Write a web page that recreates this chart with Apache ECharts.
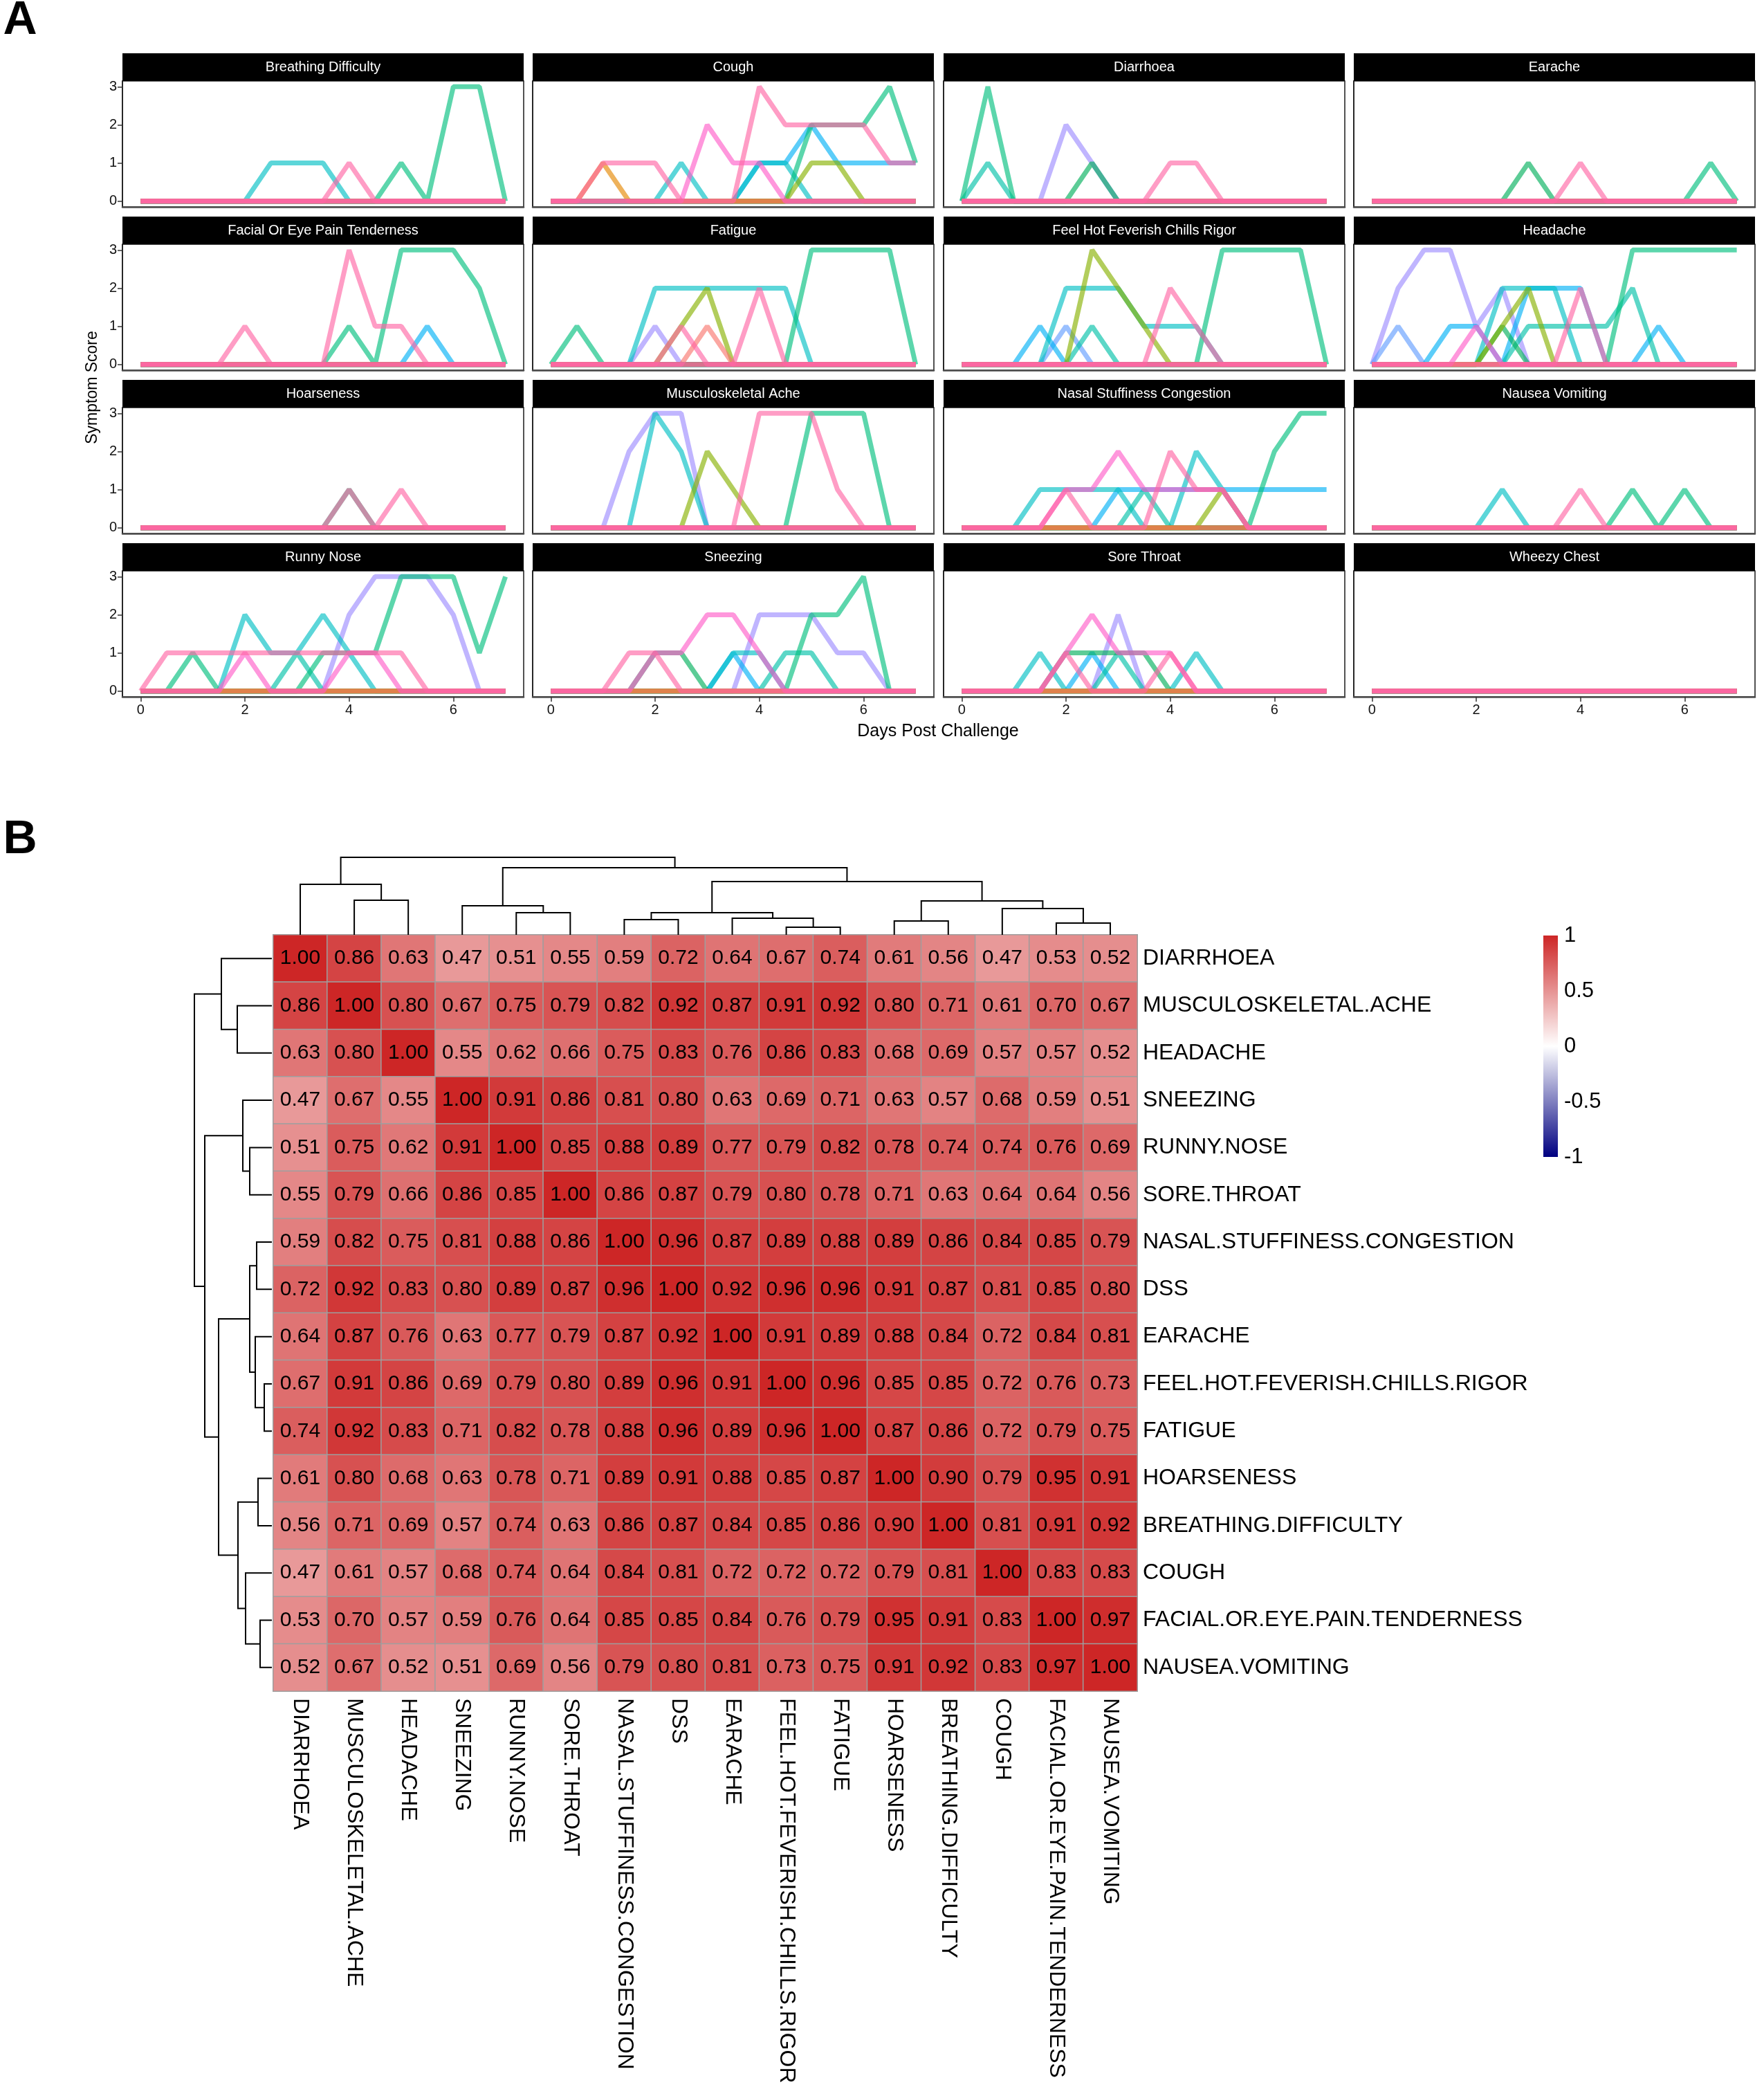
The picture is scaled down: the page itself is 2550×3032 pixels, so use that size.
<!DOCTYPE html>
<html>
<head>
<meta charset="utf-8">
<title>Symptom scores and correlation</title>
<script src="https://cdn.jsdelivr.net/npm/echarts@6.0.0/dist/echarts.min.js"></script>
<style>
  html, body { margin: 0; padding: 0; background: #fff; }
  #chart { width: 2550px; height: 3032px; }
</style>
</head>
<body>
<div id="chart"></div>
<script>
// ---- panel A data: daily symptom scores per subject (0, 0.5, ... 7 days) ----
const days = [0, 0.5, 1, 1.5, 2, 2.5, 3, 3.5, 4, 4.5, 5, 5.5, 6, 6.5, 7];
const dayTicks = [0, 2, 4, 6];
const scoreTicks = [0, 1, 2, 3];

// subject order: red, orange, olive, darkgreen, green, teal, cyan, blue, periwinkle, lavender, hotpink, pink
const subjectColors = ['#F8766D', '#E58700', '#86B000', '#00AF5A', '#00BF7D', '#00C1A8',
  '#00BFC4', '#00B0F6', '#619CFF', '#9C8CFF', '#FF5CC8', '#FF66A4'];
// which subject is drawn first (bottom) to last (top)
const drawOrder = [9, 8, 7, 6, 5, 4, 3, 2, 1, 0, 10, 11];

const none = [0, 0, 0, 0, 0, 0, 0, 0, 0, 0, 0, 0, 0, 0, 0];

const breathingDifficulty = [none, none, none, none,
  [0, 0, 0, 0, 0, 0, 0, 0, 0, 0, 1, 0, 3, 3, 0], none,
  [0, 0, 0, 0, 0, 1, 1, 1, 0, 0, 0, 0, 0, 0, 0], none, none, none, none,
  [0, 0, 0, 0, 0, 0, 0, 0, 1, 0, 0, 0, 0, 0, 0]];
const cough = [none,
  [0, 0, 1, 0, 0, 0, 0, 0, 0, 0, 0, 0, 0, 0, 0],
  [0, 0, 0, 0, 0, 0, 0, 0, 0, 0, 1, 1, 0, 0, 0], none,
  [0, 0, 0, 0, 0, 0, 0, 0, 0, 0, 2, 2, 2, 3, 1], none,
  [0, 0, 0, 0, 0, 1, 0, 0, 1, 1, 0, 0, 0, 0, 0],
  [0, 0, 0, 0, 0, 0, 0, 0, 1, 1, 2, 1, 1, 1, 1], none, none,
  [0, 0, 0, 0, 0, 0, 2, 1, 1, 0, 0, 0, 0, 0, 0],
  [0, 0, 1, 1, 1, 0, 0, 0, 3, 2, 2, 2, 2, 1, 1]];
const diarrhoea = [none, none, none,
  [0, 0, 0, 0, 0, 1, 0, 0, 0, 0, 0, 0, 0, 0, 0],
  [0, 3, 0, 0, 0, 0, 0, 0, 0, 0, 0, 0, 0, 0, 0],
  [0, 1, 0, 0, 0, 0, 0, 0, 0, 0, 0, 0, 0, 0, 0], none, none, none,
  [0, 0, 0, 0, 2, 1, 0, 0, 0, 0, 0, 0, 0, 0, 0], none,
  [0, 0, 0, 0, 0, 0, 0, 0, 1, 1, 0, 0, 0, 0, 0]];
const earache = [none, none, none,
  [0, 0, 0, 0, 0, 0, 1, 0, 0, 0, 0, 0, 0, 0, 0],
  [0, 0, 0, 0, 0, 0, 0, 0, 0, 0, 0, 0, 0, 1, 0], none, none, none, none, none, none,
  [0, 0, 0, 0, 0, 0, 0, 0, 1, 0, 0, 0, 0, 0, 0]];
const facialPain = [none, none, none, none,
  [0, 0, 0, 0, 0, 0, 0, 0, 1, 0, 3, 3, 3, 2, 0], none, none,
  [0, 0, 0, 0, 0, 0, 0, 0, 0, 0, 0, 1, 0, 0, 0], none, none, none,
  [0, 0, 0, 0, 1, 0, 0, 0, 3, 1, 1, 0, 0, 0, 0]];
const fatigue = [
  [0, 0, 0, 0, 0, 0, 1, 0, 0, 0, 0, 0, 0, 0, 0], none,
  [0, 0, 0, 0, 0, 1, 2, 0, 0, 0, 0, 0, 0, 0, 0], none,
  [0, 1, 0, 0, 0, 0, 0, 0, 0, 0, 3, 3, 3, 3, 0], none,
  [0, 0, 0, 0, 2, 2, 2, 2, 2, 2, 0, 0, 0, 0, 0], none, none,
  [0, 0, 0, 0, 1, 0, 0, 0, 0, 0, 0, 0, 0, 0, 0], none,
  [0, 0, 0, 0, 0, 1, 0, 0, 2, 0, 0, 0, 0, 0, 0]];
const feelHot = [none, none,
  [0, 0, 0, 0, 0, 3, 2, 1, 0, 0, 0, 0, 0, 0, 0], none,
  [0, 0, 0, 0, 0, 0, 0, 0, 0, 0, 3, 3, 3, 3, 0],
  [0, 0, 0, 0, 0, 1, 0, 0, 0, 0, 0, 0, 0, 0, 0],
  [0, 0, 0, 0, 2, 2, 2, 1, 1, 1, 0, 0, 0, 0, 0],
  [0, 0, 0, 1, 0, 0, 0, 0, 0, 0, 0, 0, 0, 0, 0],
  [0, 0, 0, 0, 1, 0, 0, 0, 0, 0, 0, 0, 0, 0, 0], none, none,
  [0, 0, 0, 0, 0, 0, 0, 0, 2, 1, 0, 0, 0, 0, 0]];
const headache = [none, none,
  [0, 0, 0, 0, 0, 1, 2, 0, 0, 0, 0, 0, 0, 0, 0],
  [0, 0, 0, 0, 0, 1, 0, 0, 0, 0, 0, 0, 0, 0, 0],
  [0, 0, 0, 0, 0, 0, 0, 0, 0, 0, 3, 3, 3, 3, 3],
  [0, 0, 0, 0, 0, 0, 1, 1, 1, 1, 2, 0, 0, 0, 0],
  [0, 0, 0, 0, 0, 2, 2, 2, 0, 0, 0, 0, 0, 0, 0],
  [0, 0, 0, 1, 1, 0, 2, 2, 2, 0, 0, 1, 0, 0, 0],
  [0, 1, 0, 0, 0, 0, 0, 0, 0, 0, 0, 0, 0, 0, 0],
  [0, 2, 3, 3, 1, 2, 0, 0, 0, 0, 0, 0, 0, 0, 0],
  [0, 0, 0, 0, 1, 0, 0, 0, 0, 0, 0, 0, 0, 0, 0],
  [0, 0, 0, 0, 0, 0, 0, 0, 2, 0, 0, 0, 0, 0, 0]];
const hoarseness = [none, none, none, none,
  [0, 0, 0, 0, 0, 0, 0, 0, 1, 0, 0, 0, 0, 0, 0], none, none, none, none, none, none,
  [0, 0, 0, 0, 0, 0, 0, 0, 1, 0, 1, 0, 0, 0, 0]];
const muscAche = [none, none,
  [0, 0, 0, 0, 0, 0, 2, 1, 0, 0, 0, 0, 0, 0, 0], none,
  [0, 0, 0, 0, 0, 0, 0, 0, 0, 0, 3, 3, 3, 0, 0], none,
  [0, 0, 0, 0, 3, 2, 0, 0, 0, 0, 0, 0, 0, 0, 0], none, none,
  [0, 0, 0, 2, 3, 3, 0, 0, 0, 0, 0, 0, 0, 0, 0], none,
  [0, 0, 0, 0, 0, 0, 0, 0, 3, 3, 3, 1, 0, 0, 0]];
const nasalCongestion = [none, none,
  [0, 0, 0, 0, 0, 0, 0, 0, 0, 0, 1, 0, 0, 0, 0], none,
  [0, 0, 0, 0, 0, 0, 0, 0, 0, 0, 0, 0, 2, 3, 3],
  [0, 0, 0, 0, 0, 0, 0, 1, 0, 0, 0, 0, 0, 0, 0],
  [0, 0, 0, 1, 1, 1, 1, 0, 0, 2, 1, 0, 0, 0, 0],
  [0, 0, 0, 0, 0, 0, 1, 1, 1, 1, 1, 1, 1, 1, 1], none, none,
  [0, 0, 0, 0, 1, 1, 2, 1, 1, 1, 1, 0, 0, 0, 0],
  [0, 0, 0, 0, 1, 0, 0, 0, 2, 1, 1, 0, 0, 0, 0]];
const nauseaVomiting = [none, none, none, none,
  [0, 0, 0, 0, 0, 0, 0, 0, 0, 0, 1, 0, 1, 0, 0], none,
  [0, 0, 0, 0, 0, 1, 0, 0, 0, 0, 0, 0, 0, 0, 0], none, none, none, none,
  [0, 0, 0, 0, 0, 0, 0, 0, 1, 0, 0, 0, 0, 0, 0]];
const runnyNose = [none, none, none, none,
  [0, 0, 1, 0, 0, 0, 0, 1, 1, 1, 3, 3, 3, 1, 3],
  [0, 0, 0, 0, 0, 0, 1, 0, 0, 0, 0, 0, 0, 0, 0],
  [0, 0, 0, 0, 2, 1, 1, 2, 1, 0, 0, 0, 0, 0, 0], none, none,
  [0, 0, 0, 0, 0, 0, 0, 0, 2, 3, 3, 3, 2, 0, 0],
  [0, 0, 0, 0, 1, 0, 0, 0, 1, 1, 0, 0, 0, 0, 0],
  [0, 1, 1, 1, 1, 1, 1, 1, 1, 1, 1, 0, 0, 0, 0]];
const sneezing = [none, none, none,
  [0, 0, 0, 0, 1, 1, 0, 0, 0, 0, 0, 0, 0, 0, 0],
  [0, 0, 0, 0, 0, 0, 0, 0, 0, 0, 2, 2, 3, 0, 0],
  [0, 0, 0, 0, 0, 0, 0, 0, 0, 1, 1, 0, 0, 0, 0],
  [0, 0, 0, 0, 0, 0, 0, 1, 1, 0, 0, 0, 0, 0, 0],
  [0, 0, 0, 0, 0, 0, 0, 1, 0, 0, 0, 0, 0, 0, 0], none,
  [0, 0, 0, 0, 0, 0, 0, 0, 2, 2, 2, 1, 1, 0, 0],
  [0, 0, 0, 0, 1, 1, 2, 2, 1, 0, 0, 0, 0, 0, 0],
  [0, 0, 0, 1, 1, 0, 0, 0, 0, 0, 0, 0, 0, 0, 0]];
const soreThroat = [none, none, none,
  [0, 0, 0, 0, 1, 1, 1, 1, 0, 0, 0, 0, 0, 0, 0], none,
  [0, 0, 0, 0, 0, 0, 1, 0, 0, 0, 0, 0, 0, 0, 0],
  [0, 0, 0, 1, 0, 0, 0, 0, 0, 1, 0, 0, 0, 0, 0],
  [0, 0, 0, 0, 0, 1, 0, 0, 0, 0, 0, 0, 0, 0, 0], none,
  [0, 0, 0, 0, 0, 0, 2, 0, 0, 0, 0, 0, 0, 0, 0],
  [0, 0, 0, 0, 1, 2, 1, 1, 1, 0, 0, 0, 0, 0, 0],
  [0, 0, 0, 0, 1, 0, 0, 0, 1, 0, 0, 0, 0, 0, 0]];
const wheezyChest = [none, none, none, none, none, none, none, none, none, none, none, none];

const facetTitles = ['Breathing Difficulty', 'Cough', 'Diarrhoea', 'Earache',
  'Facial Or Eye Pain Tenderness', 'Fatigue', 'Feel Hot Feverish Chills Rigor', 'Headache',
  'Hoarseness', 'Musculoskeletal Ache', 'Nasal Stuffiness Congestion', 'Nausea Vomiting',
  'Runny Nose', 'Sneezing', 'Sore Throat', 'Wheezy Chest'];
const facetScores = [breathingDifficulty, cough, diarrhoea, earache,
  facialPain, fatigue, feelHot, headache,
  hoarseness, muscAche, nasalCongestion, nauseaVomiting,
  runnyNose, sneezing, soreThroat, wheezyChest];

// ---- panel B data: symptom correlation matrix ----
const symptomLabels = ['DIARRHOEA', 'MUSCULOSKELETAL.ACHE', 'HEADACHE', 'SNEEZING', 'RUNNY.NOSE',
  'SORE.THROAT', 'NASAL.STUFFINESS.CONGESTION', 'DSS', 'EARACHE', 'FEEL.HOT.FEVERISH.CHILLS.RIGOR',
  'FATIGUE', 'HOARSENESS', 'BREATHING.DIFFICULTY', 'COUGH', 'FACIAL.OR.EYE.PAIN.TENDERNESS',
  'NAUSEA.VOMITING'];
const corrRows = [
  [1.00, 0.86, 0.63, 0.47, 0.51, 0.55, 0.59, 0.72, 0.64, 0.67, 0.74, 0.61, 0.56, 0.47, 0.53, 0.52],
  [0.86, 1.00, 0.80, 0.67, 0.75, 0.79, 0.82, 0.92, 0.87, 0.91, 0.92, 0.80, 0.71, 0.61, 0.70, 0.67],
  [0.63, 0.80, 1.00, 0.55, 0.62, 0.66, 0.75, 0.83, 0.76, 0.86, 0.83, 0.68, 0.69, 0.57, 0.57, 0.52],
  [0.47, 0.67, 0.55, 1.00, 0.91, 0.86, 0.81, 0.80, 0.63, 0.69, 0.71, 0.63, 0.57, 0.68, 0.59, 0.51],
  [0.51, 0.75, 0.62, 0.91, 1.00, 0.85, 0.88, 0.89, 0.77, 0.79, 0.82, 0.78, 0.74, 0.74, 0.76, 0.69],
  [0.55, 0.79, 0.66, 0.86, 0.85, 1.00, 0.86, 0.87, 0.79, 0.80, 0.78, 0.71, 0.63, 0.64, 0.64, 0.56],
  [0.59, 0.82, 0.75, 0.81, 0.88, 0.86, 1.00, 0.96, 0.87, 0.89, 0.88, 0.89, 0.86, 0.84, 0.85, 0.79],
  [0.72, 0.92, 0.83, 0.80, 0.89, 0.87, 0.96, 1.00, 0.92, 0.96, 0.96, 0.91, 0.87, 0.81, 0.85, 0.80],
  [0.64, 0.87, 0.76, 0.63, 0.77, 0.79, 0.87, 0.92, 1.00, 0.91, 0.89, 0.88, 0.84, 0.72, 0.84, 0.81],
  [0.67, 0.91, 0.86, 0.69, 0.79, 0.80, 0.89, 0.96, 0.91, 1.00, 0.96, 0.85, 0.85, 0.72, 0.76, 0.73],
  [0.74, 0.92, 0.83, 0.71, 0.82, 0.78, 0.88, 0.96, 0.89, 0.96, 1.00, 0.87, 0.86, 0.72, 0.79, 0.75],
  [0.61, 0.80, 0.68, 0.63, 0.78, 0.71, 0.89, 0.91, 0.88, 0.85, 0.87, 1.00, 0.90, 0.79, 0.95, 0.91],
  [0.56, 0.71, 0.69, 0.57, 0.74, 0.63, 0.86, 0.87, 0.84, 0.85, 0.86, 0.90, 1.00, 0.81, 0.91, 0.92],
  [0.47, 0.61, 0.57, 0.68, 0.74, 0.64, 0.84, 0.81, 0.72, 0.72, 0.72, 0.79, 0.81, 1.00, 0.83, 0.83],
  [0.53, 0.70, 0.57, 0.59, 0.76, 0.64, 0.85, 0.85, 0.84, 0.76, 0.79, 0.95, 0.91, 0.83, 1.00, 0.97],
  [0.52, 0.67, 0.52, 0.51, 0.69, 0.56, 0.79, 0.80, 0.81, 0.73, 0.75, 0.91, 0.92, 0.83, 0.97, 1.00]];

// hclust-style merges: negative = leaf (1-based, display order), positive = earlier merge row
const dendroMerges = [
  [-10, -11, 11], [-15, -16, 17], [-12, -13, 20], [-7, -8, 22], [-9, 1, 24],
  [-5, -6, 32], [4, 5, 32], [-14, 2, 38], [-4, 6, 42], [3, 8, 49],
  [-2, -3, 50], [-1, 11, 73], [7, 10, 77], [9, 13, 97], [12, 14, 112]];
const dendroTop = 112;
const colorbarTicks = [1, 0.5, 0, -0.5, -1];

// ---- layout ----
const FONT = 'Liberation Sans, Arial, sans-serif';
const colLeft = [177, 770, 1364, 1957];
const rowTop = [77, 313, 549, 785];
const facetW = 580, stripH = 40, plotH = 182;
const heat = { left: 395, top: 1351, width: 1249, height: 1093 };
const bar = { left: 2231, top: 1352, width: 21, height: 320 };

const chart = echarts.init(document.getElementById('chart'), null, { renderer: 'canvas', devicePixelRatio: 1 });

const grids = [], xAxes = [], yAxes = [], series = [], graphics = [];

facetTitles.forEach((title, f) => {
  const r = Math.floor(f / 4), c = f % 4;
  const top = rowTop[r] + stripH;
  grids.push({ left: colLeft[c], top: top, width: facetW, height: plotH, show: true,
    borderColor: '#1a1a1a', borderWidth: 1.5, backgroundColor: '#fff' });
  xAxes.push({ gridIndex: f, type: 'value', min: -0.35, max: 7.35,
    axisLine: { show: true, onZero: false, lineStyle: { color: '#4d4d4d', width: 2.5 } },
    axisTick: { show: r === 3, inside: false, customValues: dayTicks, length: 7, lineStyle: { color: '#333', width: 1.5 } },
    axisLabel: { show: r === 3, customValues: dayTicks, fontSize: 20, color: '#111', margin: 9, fontFamily: FONT },
    splitLine: { show: false } });
  yAxes.push({ gridIndex: f, type: 'value', min: -0.15, max: 3.15,
    axisLine: { show: true, onZero: false, lineStyle: { color: '#1a1a1a', width: 1.5 } },
    axisTick: { show: c === 0, inside: false, customValues: scoreTicks, length: 7, lineStyle: { color: '#333', width: 1.5 } },
    axisLabel: { show: c === 0, customValues: scoreTicks, fontSize: 20, color: '#111', margin: 8, fontFamily: FONT },
    splitLine: { show: false } });
  drawOrder.forEach(s => {
    const vals = facetScores[f][s];
    series.push({ type: 'line', xAxisIndex: f, yAxisIndex: f, silent: true, showSymbol: false,
      animation: false, data: vals.map((v, i) => [days[i], v]),
      lineStyle: { color: subjectColors[s], width: 7, opacity: 0.64 } });
  });
  graphics.push({ type: 'rect', shape: { x: colLeft[c], y: rowTop[r], width: facetW, height: stripH },
    style: { fill: '#000' } });
  graphics.push({ type: 'text', x: colLeft[c] + facetW / 2, y: rowTop[r] + stripH / 2,
    style: { text: title, fill: '#fff', fontSize: 20, fontFamily: FONT, align: 'center', verticalAlign: 'middle' } });
});

graphics.push({ type: 'text', x: 1356, y: 1057, style: { text: 'Days Post Challenge', fill: '#000',
  fontSize: 25, fontFamily: FONT, align: 'center', verticalAlign: 'middle' } });
graphics.push({ type: 'text', x: 134, y: 560, rotation: Math.PI / 2, style: { text: 'Symptom Score',
  fill: '#000', fontSize: 23, fontFamily: FONT, align: 'center', verticalAlign: 'middle' } });
graphics.push({ type: 'text', x: 29, y: 30, style: { text: 'A', fill: '#000', fontSize: 68,
  fontWeight: 'bold', fontFamily: FONT, align: 'center', verticalAlign: 'middle' } });
graphics.push({ type: 'text', x: 29, y: 1214, style: { text: 'B', fill: '#000', fontSize: 68,
  fontWeight: 'bold', fontFamily: FONT, align: 'center', verticalAlign: 'middle' } });

// ---- heatmap ----
const hg = grids.length;
grids.push({ left: heat.left, top: heat.top, width: heat.width, height: heat.height });
xAxes.push({ gridIndex: hg, type: 'category', data: symptomLabels, position: 'bottom',
  axisLine: { show: false }, axisTick: { show: false }, splitArea: { show: false },
  axisLabel: { rotate: -90, fontSize: 32, color: '#000', margin: 10, fontFamily: FONT, interval: 0 } });
yAxes.push({ gridIndex: hg, type: 'category', data: symptomLabels, position: 'right', inverse: true,
  axisLine: { show: false }, axisTick: { show: false },
  axisLabel: { fontSize: 32, color: '#000', margin: 8, fontFamily: FONT, interval: 0 } });
const heatData = [];
corrRows.forEach((row, r) => row.forEach((v, c) => heatData.push([c, r, v])));
const heatIndex = series.length;
series.push({ type: 'heatmap', xAxisIndex: hg, yAxisIndex: hg, data: heatData, silent: true,
  animation: false,
  itemStyle: { borderColor: '#9e9e9e', borderWidth: 1.5 },
  label: { show: true, formatter: p => p.value[2].toFixed(2), fontSize: 30, color: '#000', fontFamily: FONT } });

// ---- dendrograms ----
function dendroSegments(merges) {
  const pos = [], hgt = [], segs = [];
  const ref = k => (k < 0 ? [-k - 1, 0] : [pos[k - 1], hgt[k - 1]]);
  merges.forEach(([a, b, h], i) => {
    const [pa, ha] = ref(a), [pb, hb] = ref(b);
    segs.push([pa, ha, pb, hb, h]);
    pos[i] = (pa + pb) / 2;
    hgt[i] = h;
  });
  return segs;
}
const segs = dendroSegments(dendroMerges);
const n = symptomLabels.length;

const tg = grids.length;
grids.push({ left: heat.left, top: heat.top - dendroTop, width: heat.width, height: dendroTop });
xAxes.push({ gridIndex: tg, type: 'value', min: -0.5, max: n - 0.5, show: false });
yAxes.push({ gridIndex: tg, type: 'value', min: 0, max: dendroTop, show: false });
const lg = grids.length;
grids.push({ left: heat.left - dendroTop - 2, top: heat.top, width: dendroTop, height: heat.height });
xAxes.push({ gridIndex: lg, type: 'value', min: 0, max: dendroTop, inverse: true, show: false });
yAxes.push({ gridIndex: lg, type: 'value', min: -0.5, max: n - 0.5, inverse: true, show: false });

function dendroSeries(gridIdx, vertical) {
  return {
    type: 'custom', xAxisIndex: gridIdx, yAxisIndex: gridIdx, data: segs, silent: true, animation: false,
    clip: false,
    renderItem: (params, api) => {
      const pa = api.value(0), ha = api.value(1), pb = api.value(2), hb = api.value(3), h = api.value(4);
      const pts = vertical
        ? [[pa, ha], [pa, h], [pb, h], [pb, hb]]
        : [[ha, pa], [h, pa], [h, pb], [hb, pb]];
      return { type: 'polyline', shape: { points: pts.map(p => api.coord(p)) },
        style: { stroke: '#000', lineWidth: 2, fill: null } };
    }
  };
}
series.push(dendroSeries(tg, true));
series.push(dendroSeries(lg, false));

// ---- colour bar ----
graphics.push({ type: 'rect', shape: { x: bar.left, y: bar.top, width: bar.width, height: bar.height },
  style: { fill: new echarts.graphic.LinearGradient(0, 0, 0, 1, [
    { offset: 0, color: '#CD2626' }, { offset: 0.5, color: '#FFFFFF' }, { offset: 1, color: '#000080' }]) } });
colorbarTicks.forEach(v => {
  graphics.push({ type: 'text', x: bar.left + bar.width + 9, y: bar.top + (1 - v) / 2 * bar.height,
    style: { text: String(v), fill: '#000', fontSize: 31, fontFamily: FONT, align: 'left', verticalAlign: 'middle' } });
});

chart.setOption({
  animation: false,
  backgroundColor: '#fff',
  grid: grids,
  xAxis: xAxes,
  yAxis: yAxes,
  visualMap: { show: false, type: 'continuous', min: -1, max: 1, seriesIndex: heatIndex, dimension: 2,
    inRange: { color: ['#000080', '#FFFFFF', '#CD2626'] } },
  series: series,
  graphic: graphics
});
</script>
</body>
</html>
